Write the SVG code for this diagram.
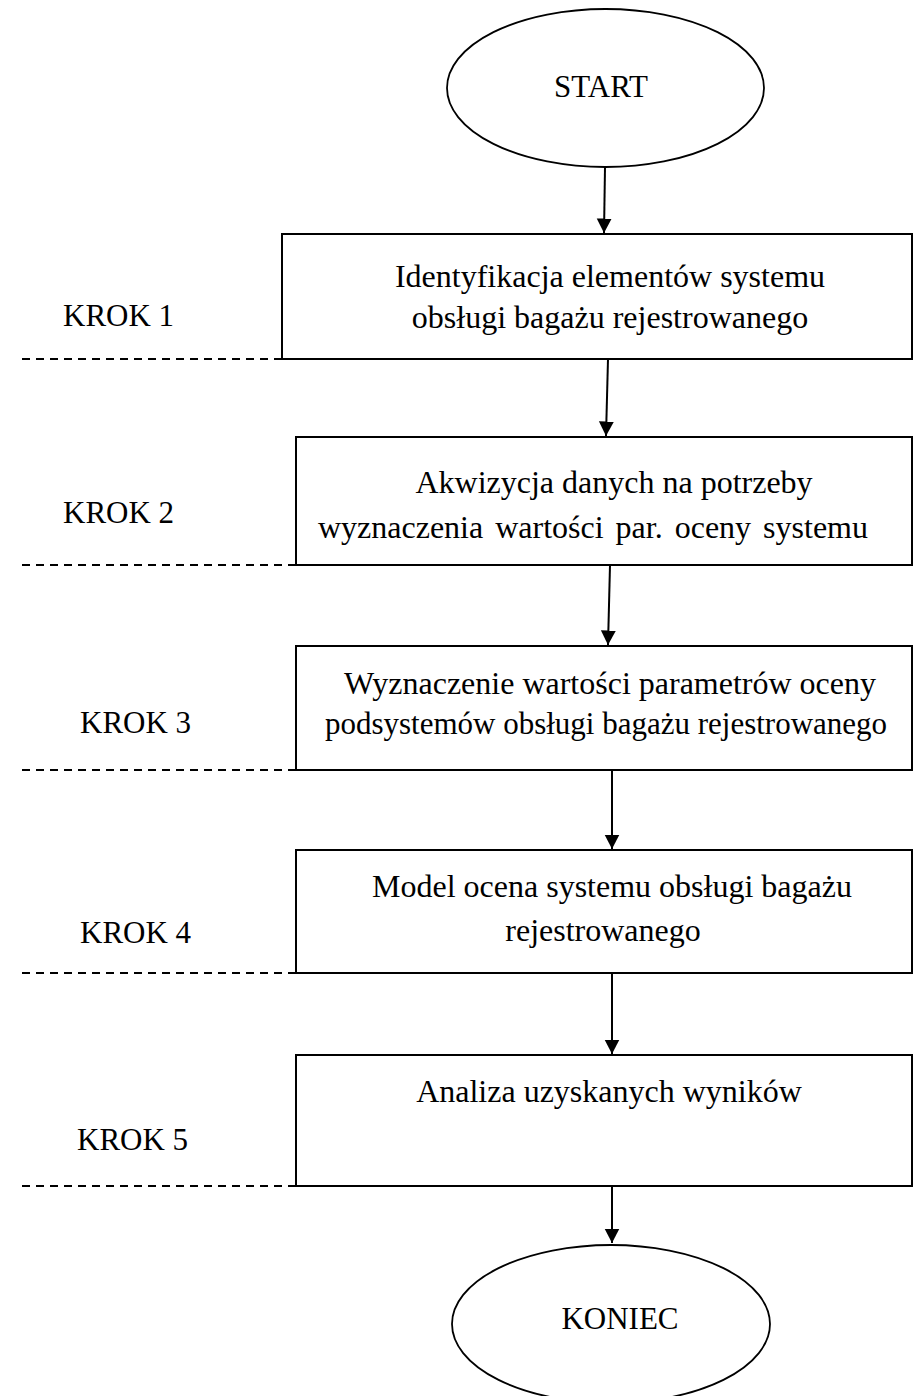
<svg xmlns="http://www.w3.org/2000/svg" width="915" height="1396" viewBox="0 0 915 1396">
  <style>
    .box { fill: #ffffff; stroke: #000000; stroke-width: 2; }
    .term { fill: #ffffff; stroke: #000000; stroke-width: 1.8; }
    .txt { font-family: "Liberation Serif", "Times New Roman", serif; font-size: 31px; fill: #000000; }
    .big { font-size: 32px; }
    .mid { text-anchor: middle; }
    .sep { stroke: #000000; stroke-width: 2; stroke-dasharray: 8 6; fill: none; }
    .flow { stroke: #000000; stroke-width: 2; fill: none; marker-end: url(#arrow); }
  </style>
  <defs>
    <!-- filled triangular arrowhead, tip on the line end -->
    <marker id="arrow" markerUnits="userSpaceOnUse" markerWidth="15" markerHeight="16" viewBox="0 0 15 16" refX="14.5" refY="8" orient="auto">
      <path d="M0,0.5 L14.5,8 L0,15.5 Z" fill="#000000"/>
    </marker>
  </defs>

  <!-- step separators -->
  <g id="separators">
    <line class="sep" x1="22" y1="359" x2="282" y2="359"/>
    <line class="sep" x1="22" y1="565" x2="296" y2="565"/>
    <line class="sep" x1="22" y1="770" x2="296" y2="770"/>
    <line class="sep" x1="22" y1="973" x2="296" y2="973"/>
    <line class="sep" x1="22" y1="1186" x2="296" y2="1186"/>
  </g>

  <!-- step labels -->
  <g id="step-labels" class="txt">
    <text x="63" y="326">KROK 1</text>
    <text x="63" y="523">KROK 2</text>
    <text x="80" y="733">KROK 3</text>
    <text x="80" y="943">KROK 4</text>
    <text x="77" y="1150">KROK 5</text>
  </g>

  <!-- connectors -->
  <g id="connectors">
    <line class="flow" x1="605" y1="167" x2="604" y2="233"/>
    <line class="flow" x1="608" y1="359" x2="606" y2="436"/>
    <line class="flow" x1="610" y1="565" x2="608" y2="645"/>
    <line class="flow" x1="612" y1="770" x2="612" y2="849"/>
    <line class="flow" x1="612" y1="973" x2="612" y2="1054"/>
    <line class="flow" x1="612" y1="1186" x2="612" y2="1243"/>
  </g>

  <g id="start">
    <ellipse class="term" cx="605.5" cy="88" rx="158.5" ry="79"/>
    <text class="txt mid" x="601" y="97">START</text>
  </g>

  <g id="step1">
    <rect class="box" x="282" y="234" width="630" height="125"/>
    <text class="txt big mid" x="610" y="287">Identyfikacja elementów systemu</text>
    <text class="txt big mid" x="610" y="328">obsługi bagażu rejestrowanego</text>
  </g>

  <g id="step2">
    <rect class="box" x="296" y="437" width="616" height="128"/>
    <text class="txt big mid" x="614" y="493">Akwizycja danych na potrzeby</text>
    <text class="txt big mid" x="593" y="538" word-spacing="4">wyznaczenia wartości par. oceny systemu</text>
  </g>

  <g id="step3">
    <rect class="box" x="296" y="646" width="616" height="124"/>
    <text class="txt big mid" x="610" y="694">Wyznaczenie wartości parametrów oceny</text>
    <text class="txt mid" x="606" y="734" font-size="31.5">podsystemów obsługi bagażu rejestrowanego</text>
  </g>

  <g id="step4">
    <rect class="box" x="296" y="850" width="616" height="123"/>
    <text class="txt big mid" x="612" y="897">Model ocena systemu obsługi bagażu</text>
    <text class="txt big mid" x="603" y="941">rejestrowanego</text>
  </g>

  <g id="step5">
    <rect class="box" x="296" y="1055" width="616" height="131"/>
    <text class="txt big mid" x="609" y="1102">Analiza uzyskanych wyników</text>
  </g>

  <g id="end">
    <ellipse class="term" cx="611" cy="1324" rx="159" ry="79"/>
    <text class="txt mid" x="620" y="1329">KONIEC</text>
  </g>
</svg>
